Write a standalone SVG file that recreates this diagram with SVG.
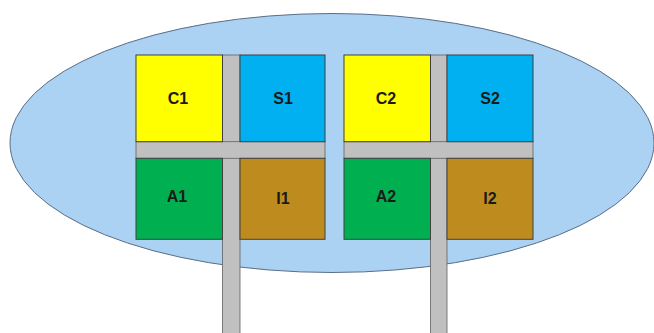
<svg xmlns="http://www.w3.org/2000/svg" width="654" height="333" viewBox="0 0 654 333">
<style>
.cell{stroke:#404040;stroke-width:1}
.bar{fill:#C0C0C0;stroke:#606060;stroke-width:0.8}
.lbl{font-family:"Liberation Sans",Arial,sans-serif;font-weight:bold;font-size:16px;fill:#1a1a1a;text-anchor:middle;dominant-baseline:central}
</style>
<rect width="654" height="333" fill="#fff"/>
<ellipse id="cloud" cx="332" cy="143" rx="322" ry="129.5" fill="#ABD1F3" stroke="#5A6E88" stroke-width="1"/>
<g id="connectors">
<rect class="bar" x="222.5" y="55" width="17.5" height="290"/>
<rect class="bar" x="430.5" y="55" width="16.5" height="290"/>
<rect class="bar" x="136" y="141.7" width="189" height="16.6"/>
<rect class="bar" x="344" y="141.7" width="189" height="16.6"/>
</g>
<g id="C1"><rect class="cell" x="136" y="55" width="86.5" height="86.7" fill="#FFFF00"/><text class="lbl" x="178" y="98">C1</text></g>
<g id="S1"><rect class="cell" x="240" y="55" width="85" height="86.7" fill="#00B0F0"/><text class="lbl" x="283" y="98">S1</text></g>
<g id="A1"><rect class="cell" x="136" y="158.3" width="86.5" height="81" fill="#00B050"/><text class="lbl" x="177" y="196">A1</text></g>
<g id="I1"><rect class="cell" x="240" y="158.3" width="85" height="81" fill="#BE8C1E"/><text class="lbl" x="283" y="198">I1</text></g>
<g id="C2"><rect class="cell" x="344" y="55" width="86.5" height="86.7" fill="#FFFF00"/><text class="lbl" x="386" y="98">C2</text></g>
<g id="S2"><rect class="cell" x="447" y="55" width="86" height="86.7" fill="#00B0F0"/><text class="lbl" x="490" y="98">S2</text></g>
<g id="A2"><rect class="cell" x="344" y="158.3" width="86.5" height="81" fill="#00B050"/><text class="lbl" x="386" y="196">A2</text></g>
<g id="I2"><rect class="cell" x="447" y="158.3" width="86" height="81" fill="#BE8C1E"/><text class="lbl" x="490" y="198">I2</text></g>
</svg>
